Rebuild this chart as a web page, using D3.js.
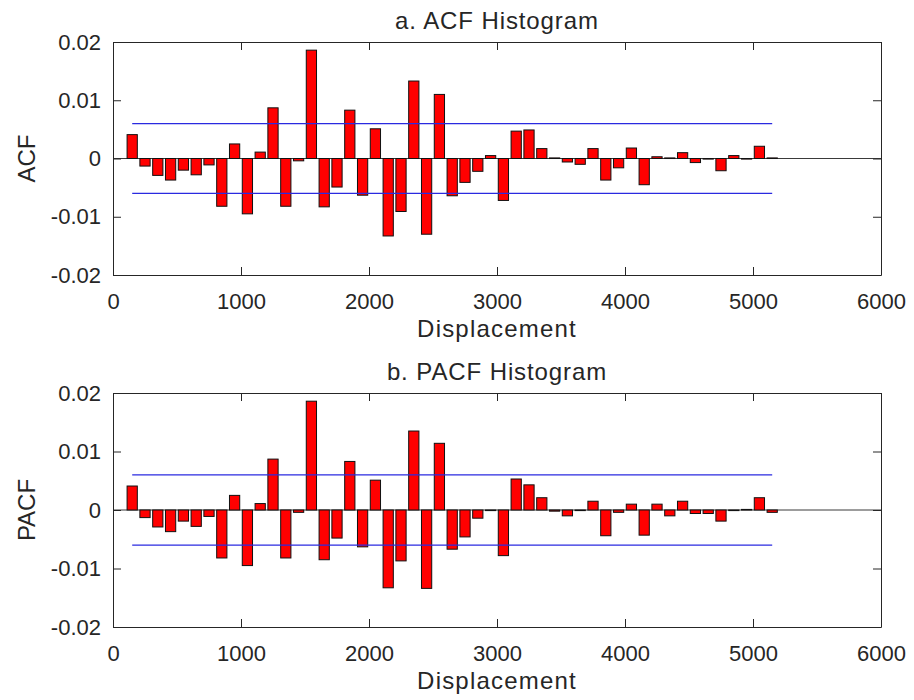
<!DOCTYPE html>
<html>
<head>
<meta charset="utf-8">
<script src="https://cdn.jsdelivr.net/npm/d3@7"></script>
<style>
  html, body { margin: 0; padding: 0; background: #fff; }
  svg { display: block; }
  text { font-family: "Liberation Sans", Arial, Helvetica, sans-serif; fill: #262626; }
</style>
</head>
<body>
<svg id="chart" width="914" height="700"></svg>
<script>
// ---- data ----
const lags = [150, 250, 350, 450, 550, 650, 750, 850, 950, 1050,
              1150, 1250, 1350, 1450, 1550, 1650, 1750, 1850, 1950, 2050,
              2150, 2250, 2350, 2450, 2550, 2650, 2750, 2850, 2950, 3050,
              3150, 3250, 3350, 3450, 3550, 3650, 3750, 3850, 3950, 4050,
              4150, 4250, 4350, 4450, 4550, 4650, 4750, 4850, 4950, 5050, 5150];

const acfValues = [0.0041, -0.0013, -0.0029, -0.0037, -0.0020, -0.0028, -0.0011, -0.0082, 0.0025, -0.0095,
                   0.0011, 0.0087, -0.0082, -0.0004, 0.0186, -0.0083, -0.0049, 0.0083, -0.0063, 0.0051,
                   -0.0133, -0.0091, 0.0133, -0.0130, 0.0110, -0.0064, -0.0041, -0.0022, 0.0005, -0.0072,
                   0.0047, 0.0049, 0.0017, 0.0001, -0.0006, -0.0010, 0.0017, -0.0037, -0.0016, 0.0018,
                   -0.0045, 0.0003, 0.0001, 0.0010, -0.0007, 0.0000, -0.0021, 0.0005, 0.0000, 0.0021, 0.0001];

const pacfValues = [0.0041, -0.0013, -0.0029, -0.0037, -0.0019, -0.0028, -0.0011, -0.0082, 0.0025, -0.0095,
                    0.0011, 0.0087, -0.0082, -0.0004, 0.0186, -0.0085, -0.0048, 0.0083, -0.0063, 0.0051,
                    -0.0133, -0.0087, 0.0135, -0.0134, 0.0114, -0.0067, -0.0046, -0.0014, -0.0001, -0.0078,
                    0.0053, 0.0043, 0.0021, -0.0002, -0.0010, -0.0001, 0.0015, -0.0044, -0.0004, 0.0010,
                    -0.0043, 0.0010, -0.0010, 0.0015, -0.0006, -0.0006, -0.0019, -0.0001, 0.0001, 0.0021, -0.0004];

const confBound = 0.006;
const confRange = [150, 5150];

const xTicks = [0, 1000, 2000, 3000, 4000, 5000, 6000];
const xTickLabels = ["0", "1000", "2000", "3000", "4000", "5000", "6000"];
const yTicks = [0.02, 0.01, 0, -0.01, -0.02];
const yTickLabels = ["0.02", "0.01", "0", "-0.01", "-0.02"];

const panels = [
  { title: "a. ACF Histogram", ylabel: "ACF", values: acfValues, top: 42, bottom: 275 },
  { title: "b. PACF Histogram", ylabel: "PACF", values: pacfValues, top: 393, bottom: 627 }
];
const xlabel = "Displacement";

// ---- drawing ----
const svg = d3.select("#chart");
const left = 113, right = 881;
const barWidthUnits = 80;
const axisColor = "#262626";

panels.forEach(p => {
  const x = d3.scaleLinear().domain([0, 6000]).range([left, right]);
  const y = d3.scaleLinear().domain([-0.02, 0.02]).range([p.bottom, p.top]);
  const g = svg.append("g");

  const fmtX = d => xTickLabels[xTicks.indexOf(d)];
  const fmtY = d => yTickLabels[yTicks.indexOf(d)];

  // baseline across axes
  g.append("line")
    .attr("x1", x(0)).attr("x2", x(6000))
    .attr("y1", y(0)).attr("y2", y(0))
    .attr("stroke", "#3a3a3a").attr("stroke-width", 1);

  // bars
  g.selectAll("rect.bar").data(p.values).enter().append("rect")
    .attr("class", "bar")
    .attr("x", (d, i) => x(lags[i] - barWidthUnits / 2))
    .attr("width", x(barWidthUnits) - x(0))
    .attr("y", d => y(Math.max(0, d)))
    .attr("height", d => Math.max(0.6, Math.abs(y(d) - y(0))))
    .attr("fill", "#ff0000")
    .attr("stroke", "#111")
    .attr("stroke-width", 1);

  // confidence bounds
  [confBound, -confBound].forEach(c => {
    g.append("line")
      .attr("x1", x(confRange[0])).attr("x2", x(confRange[1]))
      .attr("y1", y(c)).attr("y2", y(c))
      .attr("stroke", "#2a2ae0").attr("stroke-width", 1.2);
  });

  // axes (box with inward ticks)
  const styleAxis = sel => {
    sel.selectAll("path.domain").attr("stroke", axisColor).attr("stroke-width", 1);
    sel.selectAll(".tick line").attr("stroke", axisColor).attr("stroke-width", 1);
    sel.selectAll(".tick text").attr("fill", axisColor)
      .style("font-family", '"Liberation Sans", Arial, sans-serif').style("font-size", "22px");
  };

  g.append("g").attr("transform", `translate(0,${p.bottom})`)
    .call(d3.axisBottom(x).tickValues(xTicks).tickFormat(fmtX).tickSizeInner(-8).tickSizeOuter(0).tickPadding(18))
    .call(styleAxis);
  g.append("g").attr("transform", `translate(0,${p.top})`)
    .call(d3.axisTop(x).tickValues(xTicks).tickFormat("").tickSizeInner(-8).tickSizeOuter(0))
    .call(styleAxis);
  g.append("g").attr("transform", `translate(${left},0)`)
    .call(d3.axisLeft(y).tickValues(yTicks).tickFormat(fmtY).tickSizeInner(-8).tickSizeOuter(0).tickPadding(12))
    .call(styleAxis);
  g.append("g").attr("transform", `translate(${right},0)`)
    .call(d3.axisRight(y).tickValues(yTicks).tickFormat("").tickSizeInner(-8).tickSizeOuter(0))
    .call(styleAxis);

  // remove tick marks at the corners (the box edges cover them)
  g.selectAll("text").attr("fill", axisColor);

  // title
  g.append("text")
    .attr("x", (left + right) / 2).attr("y", p.top - 13)
    .attr("text-anchor", "middle")
    .style("font-size", "24px").style("letter-spacing", "0.9px")
    .text(p.title);

  // x label
  g.append("text")
    .attr("x", (left + right) / 2).attr("y", p.bottom + 62)
    .attr("text-anchor", "middle")
    .style("font-size", "24px").style("letter-spacing", "1.2px")
    .text(xlabel);

  // y label
  g.append("text")
    .attr("transform", `translate(35,${(p.top + p.bottom) / 2}) rotate(-90)`)
    .attr("text-anchor", "middle")
    .style("font-size", "24px")
    .text(p.ylabel);
});
</script>
</body>
</html>
